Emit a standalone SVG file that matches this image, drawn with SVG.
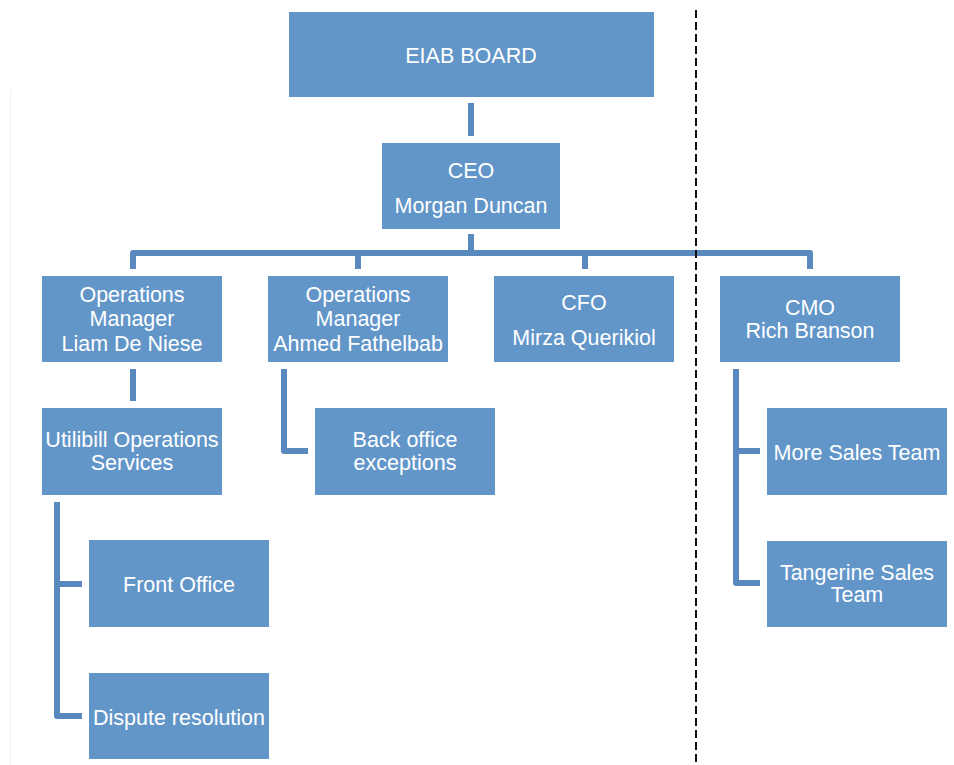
<svg xmlns="http://www.w3.org/2000/svg" width="954" height="765" viewBox="0 0 954 765">
<style>
.box{fill:#6296c9}
.t{font-family:"Liberation Sans",Arial,sans-serif;font-size:21.5px;fill:#ffffff;text-anchor:middle}
.c{fill:none;stroke:#5a89bf;stroke-width:6;stroke-linejoin:round;stroke-linecap:butt}
.dash{stroke:#111;stroke-width:2;stroke-dasharray:8 4;fill:none}
</style>
<rect width="954" height="765" fill="#ffffff"/>
<line x1="10.5" y1="90" x2="10.5" y2="765" stroke="#f0f0f0" stroke-width="1"/>
<g id="connectors">
<path class="c" d="M471 103V136"/>
<path class="c" d="M471 234V253"/>
<path class="c" d="M133 269V253H810V269"/>
<path class="c" d="M358 253V269"/>
<path class="c" d="M585 253V269"/>
<path class="c" d="M133 369V401"/>
<path class="c" d="M284 369V451H308"/>
<path class="c" d="M57 502V716H82"/>
<path class="c" d="M57 584H82"/>
<path class="c" d="M736 369V583H760"/>
<path class="c" d="M736 451H760"/>
</g>
<line class="dash" x1="696" y1="10" x2="696" y2="765"/>
<g id="board"><rect class="box" x="289" y="12" width="365" height="85"/><text class="t" x="471" y="63">EIAB BOARD</text></g>
<g id="ceo"><rect class="box" x="382" y="143" width="178" height="86"/><text class="t" x="471" y="178">CEO</text><text class="t" x="471" y="213">Morgan Duncan</text></g>
<g id="ops1"><rect class="box" x="42" y="276" width="180" height="86"/><text class="t" x="132" y="302">Operations</text><text class="t" x="132" y="326">Manager</text><text class="t" x="132" y="351">Liam De Niese</text></g>
<g id="ops2"><rect class="box" x="268" y="276" width="180" height="86"/><text class="t" x="358" y="302">Operations</text><text class="t" x="358" y="326">Manager</text><text class="t" x="358" y="351">Ahmed Fathelbab</text></g>
<g id="cfo"><rect class="box" x="494" y="276" width="180" height="86"/><text class="t" x="584" y="310">CFO</text><text class="t" x="584" y="345">Mirza Querikiol</text></g>
<g id="cmo"><rect class="box" x="720" y="276" width="180" height="86"/><text class="t" x="810" y="315">CMO</text><text class="t" x="810" y="338">Rich Branson</text></g>
<g id="utilibill"><rect class="box" x="42" y="408" width="180" height="87"/><text class="t" x="132" y="447">Utilibill Operations</text><text class="t" x="132" y="470">Services</text></g>
<g id="backoffice"><rect class="box" x="315" y="408" width="180" height="87"/><text class="t" x="405" y="447">Back office</text><text class="t" x="405" y="470">exceptions</text></g>
<g id="moresales"><rect class="box" x="767" y="408" width="180" height="87"/><text class="t" x="857" y="460">More Sales Team</text></g>
<g id="tangerine"><rect class="box" x="767" y="541" width="180" height="86"/><text class="t" x="857" y="580">Tangerine Sales</text><text class="t" x="857" y="602">Team</text></g>
<g id="frontoffice"><rect class="box" x="89" y="540" width="180" height="87"/><text class="t" x="179" y="592">Front Office</text></g>
<g id="dispute"><rect class="box" x="89" y="673" width="180" height="86"/><text class="t" x="179" y="725">Dispute resolution</text></g>
</svg>
